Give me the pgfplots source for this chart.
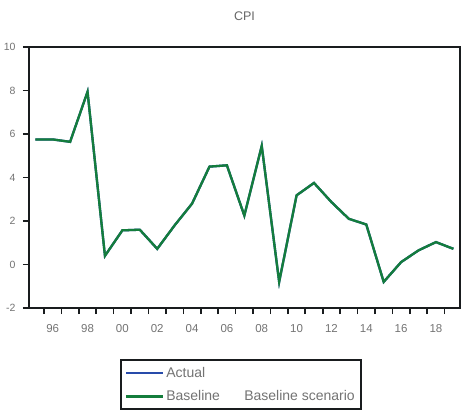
\documentclass[border=0pt]{standalone}
\usepackage{pgfplots}
\pgfplotsset{compat=1.18}
\usepackage{fontspec}
\setmainfont{Liberation Sans}
\definecolor{actualblue}{RGB}{40,75,170}
\definecolor{basegreen}{RGB}{20,125,60}
\definecolor{axisdark}{RGB}{25,28,30}
\pgfplotstableread{
year cpi
1995 5.75
1996 5.75
1997 5.64
1998 7.94
1999 0.40
2000 1.57
2001 1.60
2002 0.72
2003 1.80
2004 2.80
2005 4.50
2006 4.56
2007 2.25
2008 5.45
2009 -0.80
2010 3.18
2011 3.75
2012 2.87
2013 2.10
2014 1.84
2015 -0.80
2016 0.11
2017 0.65
2018 1.03
2019 0.72
}\cpidata
\begin{document}
\begin{tikzpicture}
\useasboundingbox (0pt,0pt) rectangle (461pt,410pt);
\begin{axis}[
  at={(29pt,102pt)}, anchor=south west,
  scale only axis, width=431pt, height=261pt,
  xmin=1994.64, xmax=2019.38, ymin=-2, ymax=10,
  ytick={-2,0,2,4,6,8,10},
  xtick={1996,1998,...,2018},
  xticklabels={96,98,00,02,04,06,08,10,12,14,16,18},
  minor xtick={1994.5,1995.5,...,2019.5},
  major x tick style={draw=none},
  tick align=outside, xtick pos=bottom, ytick pos=left,
  major tick length=6pt, minor tick length=6pt,
  axis line style={line width=2.2pt, axisdark},
  tick style={line width=1.6pt, axisdark},
  ticklabel style={font=\fontsize{11.5}{12}\selectfont, text=black!55},
  xticklabel style={yshift=-7pt},
  yticklabel style={xshift=-4pt, font=\fontsize{10.5}{11}\selectfont},
  /pgf/number format/assume math mode=true,
  title={CPI},
  title style={at={(0.5,1)}, anchor=center, yshift=25pt, font=\fontsize{12.5}{13}\selectfont, text=black!60},
  legend style={at={(0.2111,-0.196)}, anchor=north west, draw=axisdark, line width=1.6pt,
    font=\fontsize{14}{16}\selectfont, text=black!55, row sep=8pt,
    inner xsep=4pt, inner ysep=5pt, cells={anchor=west}},
  legend image code/.code={\draw[#1, line width=2.5pt] (0pt,0pt) -- (37pt,0pt);},
  legend cell align=left,
]
\addplot[actualblue, line width=2.3pt] table[x=year, y=cpi] {\cpidata};
\addlegendentry{Actual}
\addplot[basegreen, line width=2.3pt] table[x=year, y=cpi] {\cpidata};
\addlegendentry{\makebox[78pt][l]{Baseline}Baseline scenario\hspace{11pt}}
\end{axis}
\end{tikzpicture}
\end{document}
